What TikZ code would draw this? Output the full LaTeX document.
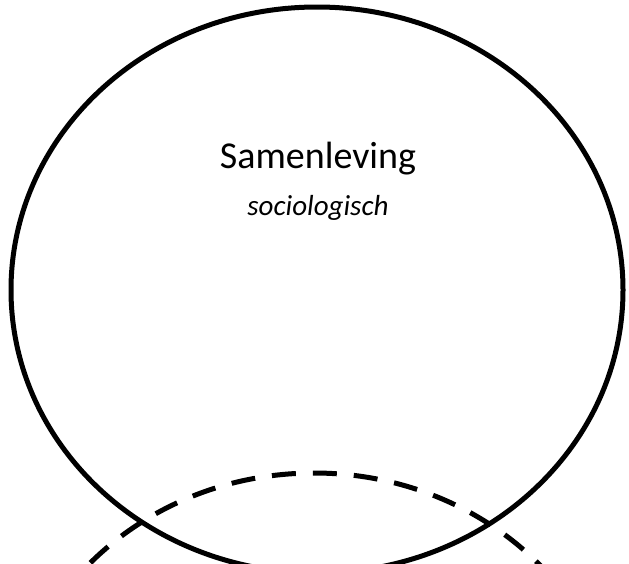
\documentclass[tikz,border=0pt]{standalone}
\usepackage{fontspec}
\setmainfont{Carlito}
\usetikzlibrary{shapes.geometric}
\begin{document}
\begin{tikzpicture}[x=1pt,y=-1pt,
  bubble/.style={ellipse, draw=black, line width=5pt, inner sep=0pt,
    minimum width=612pt, minimum height=566pt},
  dashbubble/.style={bubble, dash pattern=on 24pt off 17pt, dash phase=11pt},
  titletext/.style={anchor=base, font=\fontsize{38}{45}\selectfont},
  subtext/.style={anchor=base, font=\fontsize{29}{35}\selectfont\itshape}]
\useasboundingbox (0,0) rectangle (629,563);
\clip (0,0) rectangle (629,563);
\node[bubble] (society) at (317,290) {};
\node[dashbubble] (other) at (314,756) {};
\node[titletext] (title) at (318,168) {Samenleving};
\node[subtext] (sub) at (318,215) {sociologisch};
\end{tikzpicture}
\end{document}
